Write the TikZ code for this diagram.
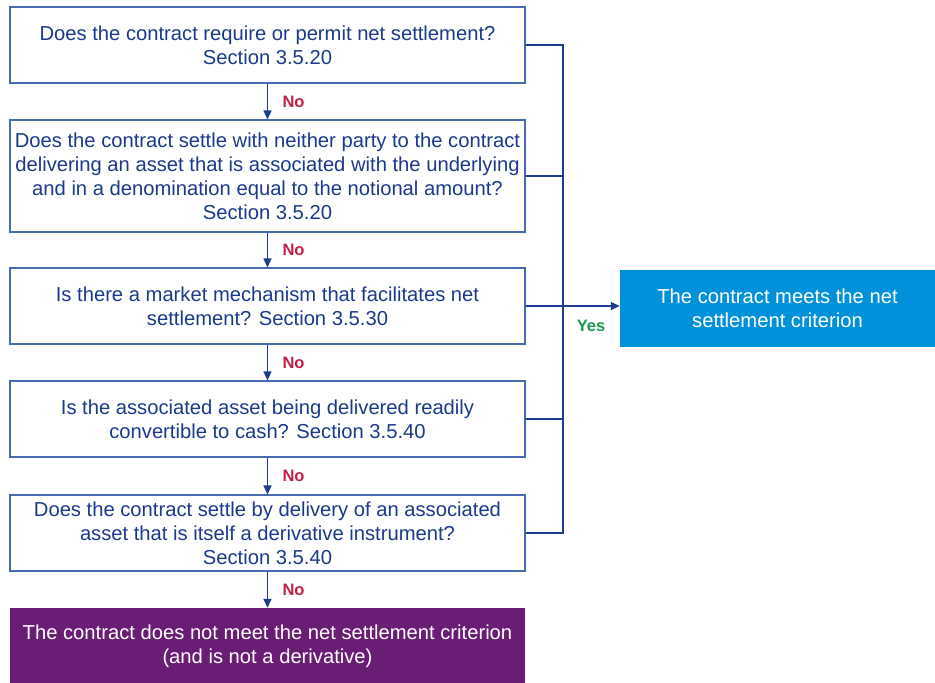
\documentclass[tikz,border=0pt]{standalone}
\usepackage{fontspec}
\setmainfont{Liberation Sans}
\usetikzlibrary{arrows.meta}
\definecolor{txtblue}{RGB}{28,58,140}
\definecolor{boxline}{RGB}{70,105,175}
\definecolor{linkblue}{RGB}{30,60,145}
\definecolor{nored}{RGB}{195,30,70}
\definecolor{yesgreen}{RGB}{25,155,75}
\definecolor{resblue}{RGB}{0,145,218}
\definecolor{respurple}{RGB}{106,29,116}
\begin{document}
\begin{tikzpicture}[x=1pt,y=-1pt,
  qbox/.style={draw=boxline,line width=1.1pt,fill=white,minimum width=515pt,align=center,
    text=txtblue,font=\fontsize{20.2}{24}\selectfont,inner sep=0pt},
  rbox/.style={align=center,text=white,font=\fontsize{20.2}{24}\selectfont,inner sep=0pt},
  link/.style={draw=linkblue,line width=1.4pt},
  arr/.style={link,-{Triangle[length=9pt,width=8pt]}},
  nolab/.style={text=nored,font=\bfseries\fontsize{16.5}{18}\selectfont,anchor=west},
  yeslab/.style={text=yesgreen,font=\bfseries\fontsize{16.5}{18}\selectfont}]
\useasboundingbox (0,0) rectangle (935,683);
\node[qbox,minimum height=76pt] (q1) at (267.5,45) {Does the contract require or permit net settlement?\\Section 3.5.20};
\node[qbox,minimum height=112pt] (q2) at (267.5,176) {Does the contract settle with neither party to the contract\\delivering an asset that is associated with the underlying\\and in a denomination equal to the notional amount?\\Section 3.5.20};
\node[qbox,minimum height=76pt] (q3) at (267.5,306) {Is there a market mechanism that facilitates net\\settlement? Section 3.5.30};
\node[qbox,minimum height=76pt] (q4) at (267.5,419) {Is the associated asset being delivered readily\\convertible to cash? Section 3.5.40};
\node[qbox,minimum height=76pt] (q5) at (267.5,533) {Does the contract settle by delivery of an associated\\asset that is itself a derivative instrument?\\Section 3.5.40};
\node[rbox,fill=respurple,minimum width=515pt,minimum height=76pt] (no) at (267.5,646) {The contract does not meet the net settlement criterion\\(and is not a derivative)};
\node[rbox,fill=resblue,minimum width=315pt,minimum height=77pt] (yes) at (777.5,308.5) {The contract meets the net\\settlement criterion};
\coordinate (c1) at (563,45);
\coordinate (c5) at (563,533);
\coordinate (c3) at (563,306);
\draw[link] (q1.east) -- (c1) -- (c5) -- (q5.east);
\draw[link] (q2.east) -- (q2.east -| c1);
\draw[link] (q4.east) -- (q4.east -| c1);
\draw[arr] (q3.east) -- (q3.east -| yes.west);
\draw[arr] (q1.south) -- node[nolab,pos=0.5,xshift=11pt]{No} (q2.north);
\draw[arr] (q2.south) -- node[nolab,pos=0.5,xshift=11pt]{No} (q3.north);
\draw[arr] (q3.south) -- node[nolab,pos=0.5,xshift=11pt]{No} (q4.north);
\draw[arr] (q4.south) -- node[nolab,pos=0.5,xshift=11pt]{No} (q5.north);
\draw[arr] (q5.south) -- node[nolab,pos=0.5,xshift=11pt]{No} (no.north);
\node[yeslab] (ylab) at (591,326) {Yes};
\end{tikzpicture}
\end{document}
